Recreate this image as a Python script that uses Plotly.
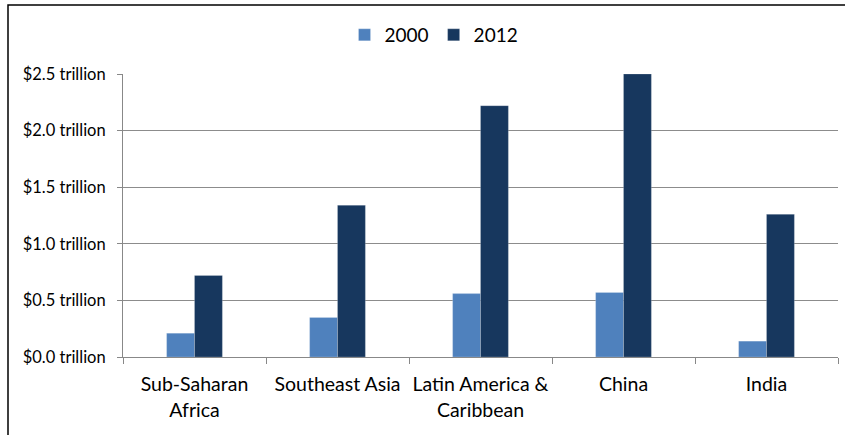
import plotly.graph_objects as go

# Regions and values (trillions of US dollars)
regions = ["Sub-Saharan<br>Africa", "Southeast Asia", "Latin America &<br>Caribbean", "China", "India"]
values_2000 = [0.21, 0.35, 0.56, 0.57, 0.14]
values_2012 = [0.72, 1.34, 2.22, 2.50, 1.26]
tick_vals = [0.0, 0.5, 1.0, 1.5, 2.0, 2.5]
tick_text = ["$0.0 trillion", "$0.5 trillion", "$1.0 trillion", "$1.5 trillion", "$2.0 trillion", "$2.5 trillion"]

FONT = "Lato, 'Open Sans', sans-serif"

fig = go.Figure()
fig.add_trace(go.Bar(
    name="2000", x=regions, y=values_2000,
    marker=dict(color="#4F81BD", line=dict(color="rgba(255,255,255,0.35)", width=0.6)),
))
fig.add_trace(go.Bar(
    name="2012", x=regions, y=values_2012,
    marker=dict(color="#17375E", line=dict(color="rgba(255,255,255,0.35)", width=0.6)),
))

L, R, T, B = 123, 7, 74, 78
W, H = 845, 435
pw, ph = W - L - R, H - T - B

# Outer chart frame (extends past the right and bottom edges)
fig.add_shape(
    type="rect", xref="paper", yref="paper",
    x0=(8 - L) / pw, x1=1.2, y0=-0.6, y1=(H - B - 5) / ph,
    line=dict(color="#000000", width=1.5), fillcolor="rgba(0,0,0,0)", layer="below",
)

fig.update_layout(
    width=W, height=H,
    margin=dict(l=L, r=R, t=T, b=B, autoexpand=False),
    paper_bgcolor="white", plot_bgcolor="white",
    barmode="group", bargap=0.61, bargroupgap=0.0,
    font=dict(family=FONT, size=16, color="#000000"),
    showlegend=True,
    legend=dict(
        orientation="h", x=0.435, xanchor="center", y=1.0 + (T - 35) / ph, yanchor="middle",
        font=dict(family=FONT, size=19, color="#000000"),
        itemwidth=30, tracegroupgap=0, bgcolor="rgba(0,0,0,0)",
    ),
    xaxis=dict(
        type="category", tickson="boundaries", ticks="outside", ticklen=6,
        tickcolor="#888888", showline=True, linecolor="#888888", linewidth=1,
        showgrid=False, ticklabelstandoff=10, tickangle=0, automargin=False,
        tickfont=dict(family=FONT, size=19.5, color="#000000"),
    ),
    yaxis=dict(
        range=[0, 2.5], tickvals=tick_vals, ticktext=tick_text,
        ticks="outside", ticklen=5, tickcolor="#888888",
        showline=True, linecolor="#888888", linewidth=1,
        showgrid=True, gridcolor="#8c8c8c", gridwidth=1, zeroline=False,
        ticklabelstandoff=8, automargin=False,
        tickfont=dict(family=FONT, size=16.5, color="#000000"),
    ),
)

fig.write_html("out.html")
